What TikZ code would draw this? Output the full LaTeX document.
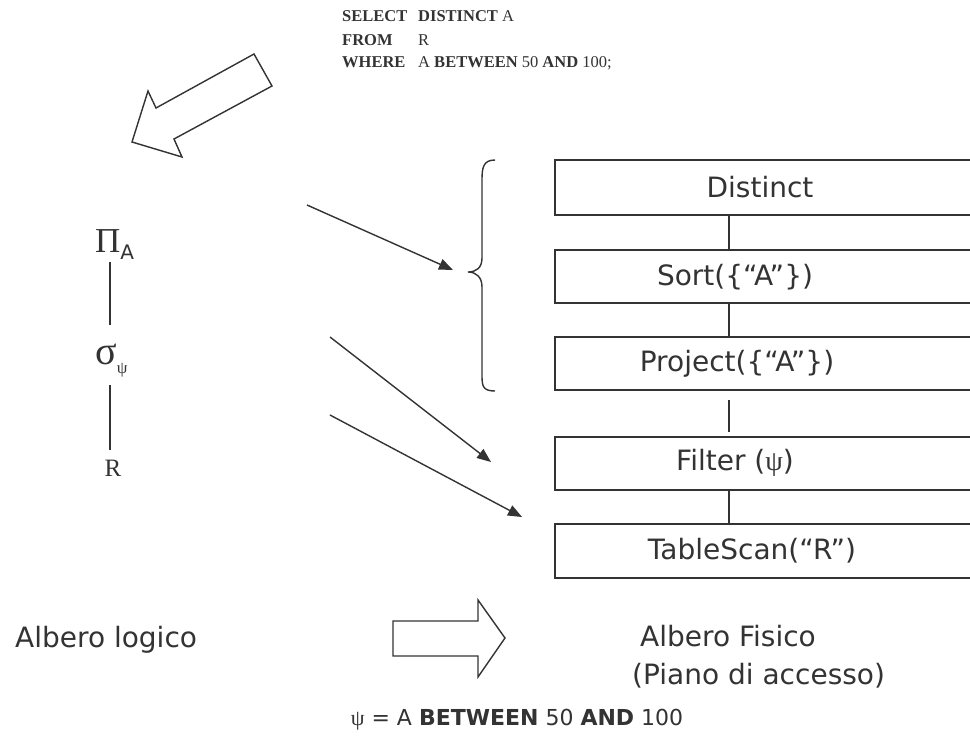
\documentclass[tikz,border=0pt]{standalone}
\usepackage{fontspec}
\setmainfont{DejaVu Sans}
\newfontfamily\sqlf{Liberation Serif}
\newfontfamily\grk{Liberation Serif}
\usetikzlibrary{arrows.meta,calc}
\definecolor{ink}{HTML}{333333}
\tikzset{
  conn/.style={draw=ink, line width=1.4pt},
  arr/.style={draw=ink, line width=1.4pt, -{Triangle[length=14pt,width=11pt]}},
  opbox/.style={draw=ink, line width=1.4pt, minimum width=440pt, inner sep=0pt},
  optext/.style={font=\fontsize{28}{34}\selectfont, text=ink, inner sep=0pt},
  sql/.style={font=\sqlf\fontsize{16.5}{20}\selectfont, text=ink, inner sep=0pt, anchor=base west},
  hollow/.style={draw=ink, line width=1.4pt, fill=white, line join=miter},
  lbl/.style={font=\fontsize{28}{38}\selectfont, text=ink, inner sep=0pt}
}
\begin{document}
\begin{tikzpicture}[x=1pt,y=-1pt]
\useasboundingbox (0,0) rectangle (970,742);
\fill[white] (0,0) rectangle (970,742);

% SQL text
\node[sql] (s1) at (342,21) {\textbf{SELECT}};
\node[sql] (s2) at (418,21) {\textbf{DISTINCT} A};
\node[sql] (f1) at (342,45) {\textbf{FROM}};
\node[sql] (f2) at (418,45) {R};
\node[sql] (w1) at (342,67) {\textbf{WHERE}};
\node[sql] (w2) at (418,67) {A \textbf{BETWEEN} 50 \textbf{AND} 100;};

% big hollow arrow (top-left)
\coordinate (T) at (132,142);
\draw[hollow] (T) -- ++(16,-51) -- ++(8,17) -- ++(98,-54) -- ++(18,32)
  -- ++(-98,53) -- ++(8,18) -- cycle;

% logical tree
\node[inner sep=0pt, anchor=base west, text=ink] (pi) at (95,252)
  {{\grk\fontsize{35}{35}\selectfont Π}{\fontsize{20}{20}\selectfont\raisebox{-7pt}{A}}};
\node[inner sep=0pt, anchor=base west, text=ink] (sigma) at (95,364)
  {{\grk\fontsize{40}{40}\selectfont σ}{\grk\fontsize{17}{17}\selectfont\raisebox{-9pt}{ψ}}};
\node[inner sep=0pt, anchor=base, text=ink, font=\grk\fontsize{25}{25}\selectfont] (r) at (113,476) {R};
\coordinate (l1a) at (110,262);
\coordinate (l1b) at (110,325);
\coordinate (l2a) at (110,385);
\coordinate (l2b) at (110,450);
\draw[conn] (l1a) -- (l1b);
\draw[conn] (l2a) -- (l2b);

% physical plan boxes
\node[opbox, minimum height=55pt] (distinct) at (775,187.5) {};
\node[opbox, minimum height=53pt] (sort) at (775,276.5) {};
\node[opbox, minimum height=53pt] (project) at (775,363.5) {};
\node[opbox, minimum height=53pt] (filter) at (775,463.5) {};
\node[opbox, minimum height=54pt] (scan) at (775,551) {};
\node[optext] (tdistinct) at (760,187) {Distinct};
\node[optext] (tsort) at (735,277) {Sort(\{“A”\})};
\node[optext] (tproject) at (737,364) {Project(\{“A”\})};
\node[optext] (tfilter) at (735,463) {Filter ({\grk ψ})};
\node[optext] (tscan) at (752,551) {TableScan(“R”)};

\coordinate (cx) at (729,0);
\draw[conn] (cx |- distinct.south) -- (cx |- sort.north);
\draw[conn] (cx |- sort.south) -- (cx |- project.north);
\coordinate (pf1) at (729,400);
\coordinate (pf2) at (729,432);
\draw[conn] (pf1) -- (pf2);
\draw[conn] (cx |- filter.south) -- (cx |- scan.north);

% brace
\draw[conn] (495,160) .. controls (483,160) and (482,168) .. (482,180)
  -- (482,258) .. controls (482,268) and (476,272) .. (468,272)
  .. controls (476,272) and (482,277) .. (482,287)
  -- (482,376) .. controls (482,386) and (483,391) .. (495,391);

% mapping arrows
\coordinate (a1s) at (307,205);
\coordinate (a1e) at (453,270);
\coordinate (a2s) at (330,337);
\coordinate (a2e) at (491,462);
\coordinate (a3s) at (330,415);
\coordinate (a3e) at (522,517);
\draw[arr] (a1s) -- (a1e);
\draw[arr] (a2s) -- (a2e);
\draw[arr] (a3s) -- (a3e);

% bottom labels
\node[lbl, anchor=west] (logico) at (15,640) {Albero logico};
\draw[hollow] (393,621) -- (478,621) -- (478,600) -- (505,638) -- (478,677)
  -- (478,656) -- (393,656) -- cycle;
\node[lbl, anchor=west, align=left] (fisico) at (632,657)
  {\hspace*{8pt}Albero Fisico\\(Piano di accesso)};
\node[inner sep=0pt, text=ink, font=\fontsize{22}{26}\selectfont] (psi) at (517,720)
  {{\grk ψ} = A \textbf{BETWEEN} 50 \textbf{AND} 100};
\end{tikzpicture}
\end{document}
